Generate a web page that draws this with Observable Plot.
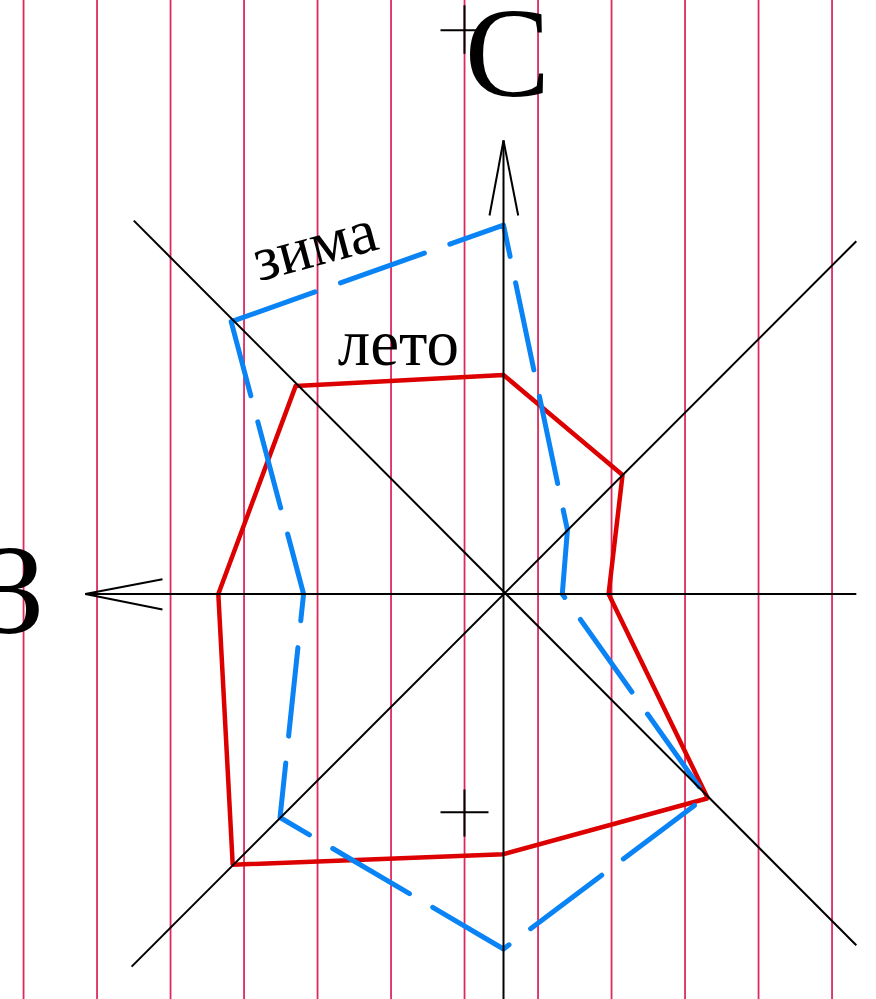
<!DOCTYPE html>
<html><head><meta charset="utf-8">
<script src="https://cdn.jsdelivr.net/npm/d3@7"></script>
<script src="https://cdn.jsdelivr.net/npm/@observablehq/plot@0.6"></script>
<style>html,body{margin:0;padding:0;background:#fff;overflow:hidden}#chart svg{display:block}</style>
</head><body><div id="chart"></div>
<script>
// Wind directions (path starts at NW and goes clockwise)
const directions = ["СЗ", "С", "СВ", "В", "ЮВ", "Ю", "ЮЗ", "З"];
const angles = [315, 0, 45, 90, 135, 180, 225, 270];
// repeat values (one unit = one notebook line spacing)
const summer = [4.00, 2.98, 2.29, 1.43, 3.93, 3.54, 5.21, 3.88]; // лето
const winter = [5.24, 5.02, 1.23, 0.80, 3.90, 4.83, 4.30, 2.72]; // зима
// notebook ruling
const gridX = [-6.53, -5.53, -4.53, -3.53, -2.53, -1.53, -0.53, 0.47, 1.47, 2.47, 3.47, 4.47];
// compass axes
const axesLines = [
  {x1: -5.69, y1: 0, x2: 4.80, y2: 0},
  {x1: 0, y1: 6.17, x2: 0, y2: -5.7},
  {x1: -5.03, y1: 5.08, x2: 4.80, y2: -4.78},
  {x1: 4.80, y1: 4.80, x2: -5.06, y2: -5.07}
];
const arrowLines = [
  {x1: 0, y1: 6.17, x2: -0.19, y2: 5.15},
  {x1: 0, y1: 6.17, x2: 0.20, y2: 5.15},
  {x1: -5.69, y1: 0, x2: -4.64, y2: 0.20},
  {x1: -5.69, y1: 0, x2: -4.64, y2: -0.21}
];
const crossLines = [
  {x1: -0.857, y1: 7.67, x2: -0.272, y2: 7.67},
  {x1: -0.531, y1: 8.01, x2: -0.531, y2: 7.35},
  {x1: -0.857, y1: -2.97, x2: -0.204, y2: -2.97},
  {x1: -0.531, y1: -2.66, x2: -0.531, y2: -3.30}
];
const compassLabels = [
  {text: "С", x: 0.054, y: 7.33},
  {text: "З", x: -6.68, y: 0.02}
];
const seriesLabels = [
  {text: "лето", x: -1.43, y: 3.40, rotate: 0, size: 65},
  {text: "зима", x: -2.57, y: 4.74, rotate: -15, size: 63}
];

function toPoints(vals) {
  const pts = directions.map((d, i) => {
    const a = angles[i] * Math.PI / 180;
    return {dir: d, x: vals[i] * Math.sin(a), y: vals[i] * Math.cos(a)};
  });
  pts.push(pts[0]);
  return pts;
}

const pink = "#dc2a5e";
const serif = "Liberation Serif, Times New Roman, serif";

const chart = Plot.plot({
  width: 876,
  height: 999,
  margin: 0,
  x: {domain: [-503 / 73.5, 373 / 73.5], axis: null},
  y: {domain: [-405.5 / 73.5, 593.5 / 73.5], axis: null},
  marks: [
    Plot.ruleX(gridX, {stroke: pink, strokeWidth: 1.8}),
    Plot.line(toPoints(summer), {x: "x", y: "y", stroke: "#dd0000", strokeWidth: 4.5, strokeLinejoin: "miter", curve: "linear"}),
    Plot.line(toPoints(winter), {x: "x", y: "y", stroke: "#0a84f5", strokeWidth: 5, strokeDasharray: "89,27", strokeLinecap: "round", strokeLinejoin: "round"}),
    Plot.link(axesLines, {x1: "x1", y1: "y1", x2: "x2", y2: "y2", stroke: "black", strokeWidth: 2}),
    Plot.link(arrowLines, {x1: "x1", y1: "y1", x2: "x2", y2: "y2", stroke: "black", strokeWidth: 2}),
    Plot.link(crossLines, {x1: "x1", y1: "y1", x2: "x2", y2: "y2", stroke: "black", strokeWidth: 2}),
    Plot.text(compassLabels, {x: "x", y: "y", text: "text", fontSize: 128, fontFamily: serif, fill: "black"}),
    Plot.text(seriesLabels.slice(0, 1), {x: "x", y: "y", text: "text", rotate: "rotate", fontSize: 65, fontFamily: serif, fill: "black"}),
    Plot.text(seriesLabels.slice(1), {x: "x", y: "y", text: "text", rotate: "rotate", fontSize: 63, fontFamily: serif, fill: "black"})
  ]
});
document.getElementById("chart").appendChild(chart);
</script>
</body></html>
